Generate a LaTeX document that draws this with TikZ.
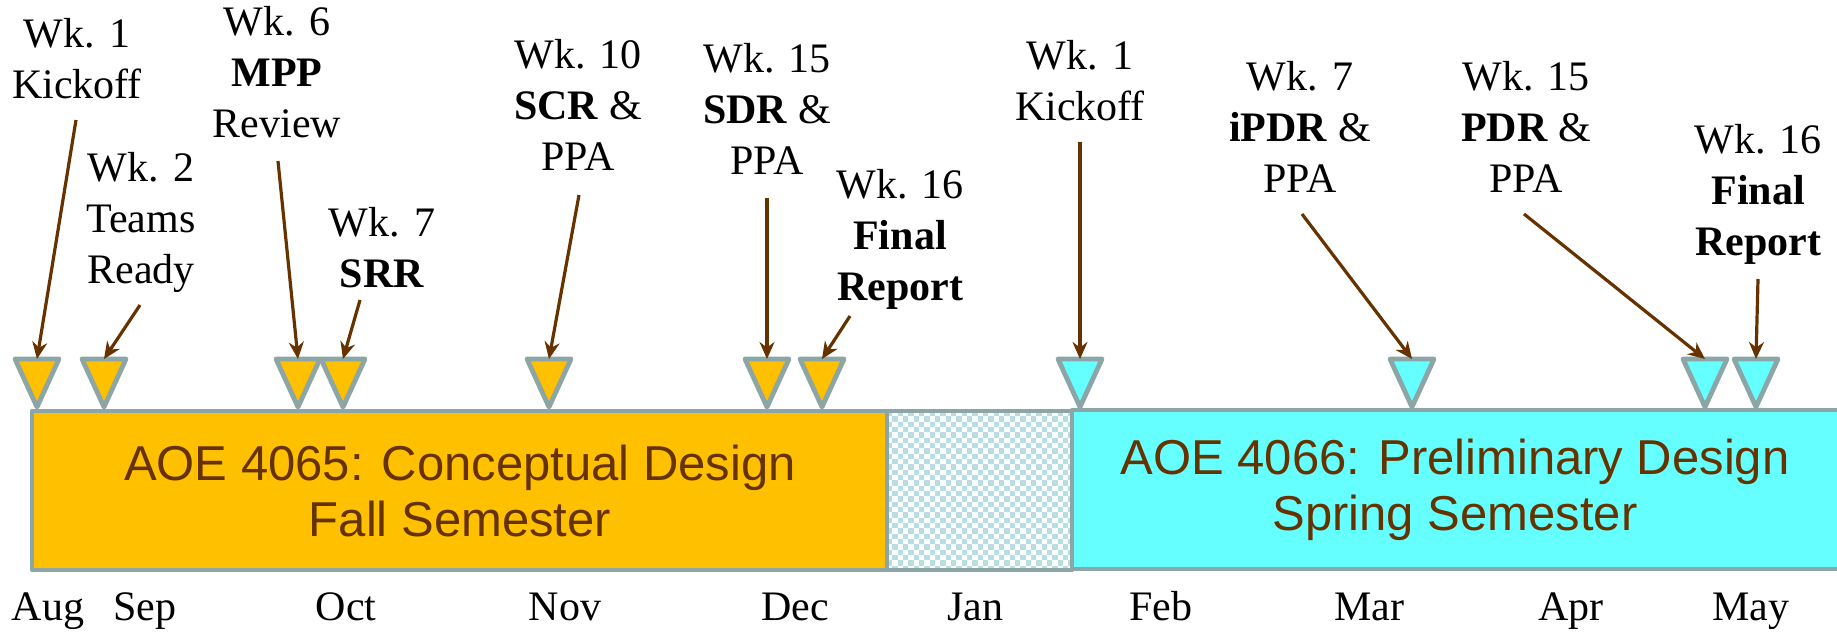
\documentclass[tikz,border=0pt]{standalone}
\usepackage{fontspec}
\setmainfont{Liberation Serif}
\newfontfamily\boxfont{Liberation Sans}
\usetikzlibrary{arrows.meta}
\definecolor{gold}{HTML}{FFC000}
\definecolor{aqua}{HTML}{66FFFF}
\definecolor{edgegray}{HTML}{8CA5A6}
\definecolor{brownish}{HTML}{663300}
\definecolor{chk}{HTML}{B7DEE1}
\tikzset{
  lbl/.style={align=center, anchor=base, inner sep=0pt, font=\fontsize{21}{25.5}\selectfont},
  month/.style={anchor=base, inner sep=0pt, font=\fontsize{21}{25.5}\selectfont},
  arr/.style={draw=brownish, line width=1.6pt, -{Stealth[length=8.5pt,width=7.5pt]}},
  tri/.style={draw=edgegray, line width=2.4pt, line join=round},
  bar/.style={draw=edgegray, line width=2.4pt, line join=round},
  boxtxt/.style={align=center, text=brownish, inner sep=0pt, font=\boxfont\fontsize{24.5}{28}\selectfont},
}
\newcommand\marker[3]{%
  \coordinate (#1) at (#2,359);
  \filldraw[tri, fill=#3] ({#2-22},359) -- ({#2+22},359) -- (#2,407) -- cycle;}
\begin{document}
\begin{tikzpicture}[x=0.5pt,y=-0.5pt]
\useasboundingbox (0,0) rectangle (1837,633);
% bars
\filldraw[bar, fill=gold] (32,411) rectangle (887,570);
\begin{scope}
  \clip (887,411) rectangle (1072,570);
  \fill[white] (887,411) rectangle (1072,570);
  \foreach \j in {0,...,30}{
    \foreach \i in {0,2,...,36}{
      \fill[chk] ({887+(\i+mod(\j,2))*5.33},{411+\j*5.33}) rectangle +(5.33,5.33);
    }
  }
\end{scope}
\draw[bar] (887,411) rectangle (1072,570);
\filldraw[bar, fill=aqua] (1072,410) rectangle (1860,569);
\node[boxtxt] (fall) at (460,491) {AOE 4065: Conceptual Design\\Fall Semester};
\node[boxtxt] (spring) at (1455,490) {AOE 4066: Preliminary Design\\Spring Semester};
% markers
\marker{t1}{37}{gold}
\marker{t2}{104}{gold}
\marker{t3}{298}{gold}
\marker{t4}{343}{gold}
\marker{t5}{549}{gold}
\marker{t6}{767}{gold}
\marker{t7}{822}{gold}
\marker{t8}{1080}{aqua}
\marker{t9}{1412}{aqua}
\marker{t10}{1705}{aqua}
\marker{t11}{1756}{aqua}
% labels (positioned at the baseline of their last line)
\node[lbl] (l1) at (77,98) {Wk. 1\\Kickoff};
\node[lbl] (l2) at (141,283) {Wk. 2\\Teams\\Ready};
\node[lbl] (l3) at (277,137) {Wk. 6\\\textbf{MPP}\\Review};
\node[lbl] (l4) at (382,287) {Wk. 7\\\textbf{SRR}};
\node[lbl] (l5) at (578,170) {Wk. 10\\\textbf{SCR} \&\\PPA};
\node[lbl] (l6) at (767,174) {Wk. 15\\\textbf{SDR} \&\\PPA};
\node[lbl] (l7) at (900,300) {Wk. 16\\\textbf{Final}\\\textbf{Report}};
\node[lbl] (l8) at (1080,120) {Wk. 1\\Kickoff};
\node[lbl] (l9) at (1300,192) {Wk. 7\\\textbf{iPDR} \&\\PPA};
\node[lbl] (l10) at (1526,192) {Wk. 15\\\textbf{PDR} \&\\PPA};
\node[lbl] (l11) at (1758,255) {Wk. 16\\\textbf{Final}\\\textbf{Report}};
% arrow starts
\coordinate (s1) at (76,120);
\coordinate (s2) at (140,305);
\coordinate (s3) at (278,161);
\coordinate (s4) at (360,300);
\coordinate (s5) at (579,195);
\coordinate (s6) at (767,198);
\coordinate (s7) at (850,316);
\coordinate (s8) at (1080,142);
\coordinate (s9) at (1302,214);
\coordinate (s10) at (1524,214);
\coordinate (s11) at (1758,279);
\foreach \k in {1,...,11}{ \draw[arr] (s\k) -- (t\k); }
% months
\node[month] (m1) at (48,620) {Aug};
\node[month] (m2) at (145,620) {Sep};
\node[month] (m3) at (346,620) {Oct};
\node[month] (m4) at (565,620) {Nov};
\node[month] (m5) at (795,620) {Dec};
\node[month] (m6) at (975,620) {Jan};
\node[month] (m7) at (1161,620) {Feb};
\node[month] (m8) at (1369,620) {Mar};
\node[month] (m9) at (1571,620) {Apr};
\node[month] (m10) at (1751,620) {May};
\end{tikzpicture}
\end{document}
